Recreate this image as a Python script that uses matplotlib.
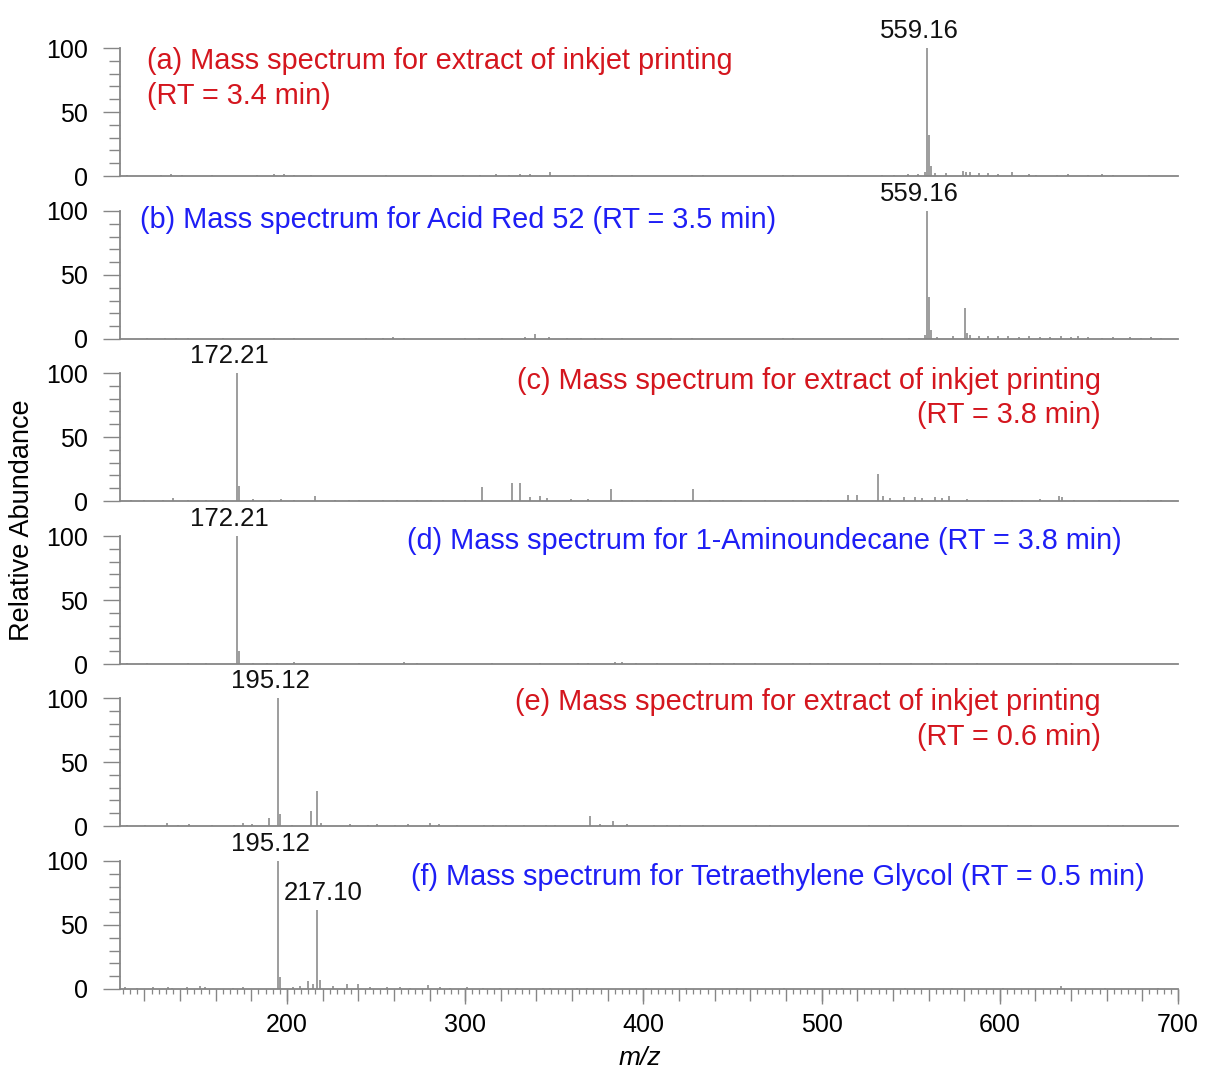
import numpy as np
import matplotlib
matplotlib.use('Agg')
import matplotlib.pyplot as plt
from matplotlib.ticker import MultipleLocator, FuncFormatter

plt.rcParams['font.family'] = ['Liberation Sans', 'DejaVu Sans']

# peak lists (m/z, relative abundance %)
mz_a = [110.2, 129.4, 135.1, 140.9, 158.1, 183.0, 192.6, 198.3, 204.1, 213.7, 255.8, 280.7,
        298.9, 308.5, 317.1, 324.8, 330.5, 336.3, 347.8, 361.2, 368.8, 382.2, 393.7, 427.3,
        433.2, 478.1, 483.9, 515.1, 533.7, 540.5, 548.3, 554.1, 558.2, 559.16, 560.2, 561.2,
        563.9, 569.8, 579.5, 581.2, 583.4, 588.3, 593.2, 599.0, 606.8, 616.6, 620.4, 632.1,
        638.0, 649.7, 657.5, 663.4, 683.8]
ab_a = [1, 1, 1.5, 1, 1, 1, 1.5, 1.5, 1, 1, 1, 1,
        1, 1, 1.5, 1, 1.5, 1.5, 3, 1, 1, 1, 1, 1,
        1, 1, 1, 1, 1, 1, 1.5, 1.5, 3, 100, 32, 8,
        2, 2, 4, 3.5, 3, 2, 2, 1.5, 3, 1.5, 1, 1,
        1.5, 1, 1.5, 1, 1]

mz_b = [121.7, 131.3, 138.0, 144.7, 163.9, 192.6, 204.1, 244.3, 253.9, 259.6, 265.4, 299.9,
        307.5, 320.9, 333.4, 339.1, 346.8, 357.3, 365.0, 372.6, 376.5, 388.0, 415.7, 427.3,
        478.1, 483.9, 533.7, 549.3, 558.2, 559.16, 560.2, 561.2, 564.9, 573.6, 580.5, 581.5,
        583.4, 588.3, 593.2, 599.0, 604.8, 610.7, 616.6, 622.4, 628.3, 634.1, 640.0, 643.9,
        649.7, 657.5, 663.4, 673.1, 679.0, 684.8, 690.7]
ab_b = [1, 1, 1, 1, 1, 1, 1, 1, 1, 1.5, 1, 1,
        1, 1, 1.5, 4, 1.5, 1, 1, 1, 1, 1, 1, 1,
        1, 1, 1, 1, 3, 100, 33, 7, 1.5, 2, 24, 5,
        3, 2, 2, 2, 2, 1.5, 2, 1.5, 1.5, 2.5, 1.5, 2.5,
        1.5, 1, 1.5, 1.5, 1, 1.5, 1]

mz_c = [112.2, 119.8, 130.4, 136.1, 144.7, 154.3, 163.9, 172.21, 173.2, 181.1, 190.7, 196.4,
        204.1, 215.6, 227.1, 234.7, 240.5, 253.9, 261.6, 273.1, 280.7, 287.4, 299.9, 309.4,
        326.3, 330.5, 336.3, 342.0, 345.8, 359.2, 368.8, 381.8, 388.0, 393.7, 402.0, 409.8,
        417.6, 427.7, 437.1, 444.9, 454.7, 468.3, 483.9, 491.7, 499.5, 503.4, 515.1, 520.0,
        531.9, 534.6, 538.6, 546.4, 552.2, 556.1, 563.9, 567.8, 571.7, 581.4, 593.2, 601.0,
        606.8, 612.6, 622.4, 633.1, 635.1, 641.9, 655.6, 667.3, 682.9, 690.7]
ab_c = [1, 1, 1, 2, 1, 1, 1, 100, 12, 1.5, 1, 1.5,
        1, 4, 1, 1, 1, 1, 1, 1, 1, 1, 1, 11,
        14, 14, 3, 4, 2, 1.5, 1.5, 9, 1, 1, 1, 1,
        1, 9, 1, 1, 1, 1, 1, 1, 1, 1, 4.5, 4.5,
        21, 4, 2, 3, 3, 2, 3, 2, 4, 1.5, 1, 1,
        1, 1, 1.5, 4, 3, 1, 1, 1, 1, 1]

mz_d = [110.2, 121.7, 144.7, 154.3, 172.21, 173.2, 181.1, 188.8, 194.5, 204.1, 240.5, 265.4,
        273.1, 315.2, 342.0, 363.1, 368.8, 384.1, 388.0, 395.6, 407.8, 429.3, 437.1, 444.9,
        450.7, 462.4, 483.9, 493.7, 503.4, 532.7, 550.2, 561.9, 569.8, 587.3, 632.1, 640.0]
ab_d = [1, 1, 1, 1, 100, 10, 1, 1, 1, 1.5, 1, 1.5,
        1, 1, 1, 1, 1, 1.5, 1.5, 1, 1, 1, 1, 1,
        1, 1, 1, 1, 1, 1, 1, 1, 1, 1, 1, 1]

mz_e = [110.1, 120.1, 132.7, 138.9, 145.2, 157.7, 170.2, 175.3, 180.2, 189.8, 195.12, 196.1,
        202.8, 213.5, 217.1, 219.1, 235.4, 245.4, 250.4, 260.4, 267.9, 280.5, 285.5, 295.5,
        310.5, 315.5, 323.1, 333.1, 345.6, 350.6, 369.9, 375.6, 383.0, 390.7, 405.7, 413.2,
        420.8, 433.3, 463.4, 470.9, 526.6, 548.3, 578.5, 604.4, 617.4, 660.5, 669.1]
ab_e = [1, 1, 2, 1, 1.5, 1, 1, 2, 1.5, 6, 100, 9,
        1, 12, 27, 2, 1.5, 1, 1.5, 1, 1.5, 2, 1.5, 1,
        1, 1, 1, 1, 1, 1, 8, 1.5, 4, 1.5, 1, 1,
        1, 1, 1, 1, 1, 1, 1, 1, 1, 1, 1]

mz_f = [109.1, 115.7, 125.0, 133.4, 135.3, 143.7, 151.2, 154.0, 169.9, 175.5, 195.12, 196.1,
        203.5, 207.3, 212.0, 214.8, 217.10, 218.5, 226.0, 233.5, 240.0, 246.6, 255.9, 263.4,
        269.0, 279.3, 285.9, 291.5, 300.8, 310.2, 319.5, 328.9, 343.8, 347.6, 362.6, 368.2,
        401.3, 423.8, 452.6, 478.9, 511.2, 546.7, 573.4, 601.8, 634.6, 659.2, 688.5]
ab_f = [1.5, 1, 1.5, 1.5, 1, 1.5, 2, 1.5, 1, 1.5, 100, 9,
        1.5, 2, 6, 4, 62, 7, 2, 4, 4, 1.5, 1.5, 1.5,
        1, 3, 1.5, 1, 1.5, 1, 1, 1, 1, 1, 1, 1,
        1, 1, 1, 1, 1, 1, 1, 1, 2, 1, 1]

panel_mz = [mz_a, mz_b, mz_c, mz_d, mz_e, mz_f]
panel_ab = [ab_a, ab_b, ab_c, ab_d, ab_e, ab_f]

# labelled peaks per panel
labels = [[(559.16, '559.16')], [(559.16, '559.16')], [(172.21, '172.21')],
          [(172.21, '172.21')], [(195.12, '195.12')], [(195.12, '195.12'), (217.10, '217.10')]]

red = '#d4161e'
blue = '#1e1ef5'
# (lines, colour, x, alignment, y of each line)
titles = [
    (['(a) Mass spectrum for extract of inkjet printing', '(RT = 3.4 min)'], red, 121.4, 'left', [90, 62.5]),
    (['(b) Mass spectrum for Acid Red 52 (RT = 3.5 min)'], blue, 117.5, 'left', [93]),
    (['(c) Mass spectrum for extract of inkjet printing', '(RT = 3.8 min)'], red, 656.8, 'right', [93.7, 67.2]),
    (['(d) Mass spectrum for 1-Aminoundecane (RT = 3.8 min)'], blue, 267.3, 'left', [96]),
    (['(e) Mass spectrum for extract of inkjet printing', '(RT = 0.6 min)'], red, 656.8, 'right', [96.9, 69.5]),
    (['(f) Mass spectrum for Tetraethylene Glycol (RT = 0.5 min)'], blue, 269.6, 'left', [87.5]),
]

W, H = 1205, 1070
fig = plt.figure(figsize=(W / 100, H / 100), dpi=100)
baselines = [176, 339, 501, 664, 826, 989]
left, right = 120, 1178
ph = 128
gray = '#868686'
axes = []
for i in range(6):
    ax = fig.add_axes([left / W, 1 - baselines[i] / H, (right - left) / W, ph / H])
    ax.vlines(panel_mz[i], 0, panel_ab[i], color='#8c8c8c', lw=1.2)
    ax.set_xlim(106.3, 700)
    ax.set_ylim(0, 100)
    for s in ['top', 'right']:
        ax.spines[s].set_visible(False)
    for s in ['left', 'bottom']:
        ax.spines[s].set_color(gray)
        ax.spines[s].set_linewidth(1.3)
    ax.yaxis.set_major_locator(MultipleLocator(50))
    ax.yaxis.set_minor_locator(MultipleLocator(10))
    ax.tick_params(axis='y', which='major', length=12, width=1.0, color=gray, labelsize=18, pad=11)
    ax.tick_params(axis='y', which='minor', length=8, width=1.0, color=gray)
    ax.patch.set_alpha(0)
    for mz, lab in labels[i]:
        h = panel_ab[i][panel_mz[i].index(mz)]
        dx = 6 if lab == '217.10' else -8
        ax.annotate(lab, xy=(mz, h), xytext=(dx, 17), textcoords='offset pixels',
                    ha='center', va='center', fontsize=18.5, color='#111111', annotation_clip=False)
    lines, col, tx, ha, ys = titles[i]
    for t, ty in zip(lines, ys):
        ax.text(tx, ty, t, color=col, fontsize=20.8, ha=ha, va='center')
    if i < 5:
        ax.tick_params(axis='x', which='both', bottom=False, labelbottom=False)
    axes.append(ax)

ax = axes[-1]
ax.xaxis.set_major_locator(MultipleLocator(20))
ax.xaxis.set_minor_locator(MultipleLocator(4))
ax.xaxis.set_major_formatter(FuncFormatter(lambda v, p: '%d' % round(v) if round(v) % 100 == 0 else ''))
ax.tick_params(axis='x', which='major', length=8.5, width=1.0, color=gray, labelsize=18, pad=9)
ax.tick_params(axis='x', which='minor', length=3.5, width=0.9, color=gray)
sec = ax.secondary_xaxis('bottom')
sec.set_xticks([200, 300, 400, 500, 600, 700])
sec.tick_params(axis='x', length=11, width=1.0, color=gray, labelbottom=False)
sec.spines['bottom'].set_visible(False)

fig.text(22 / W, 1 - 520 / H, 'Relative Abundance', rotation=90, ha='center', va='center', fontsize=19.5)
fig.text(640 / W, 1 - 1058 / H, 'm/z', style='italic', ha='center', va='center', fontsize=19)

fig.savefig('out.png', dpi=100)
